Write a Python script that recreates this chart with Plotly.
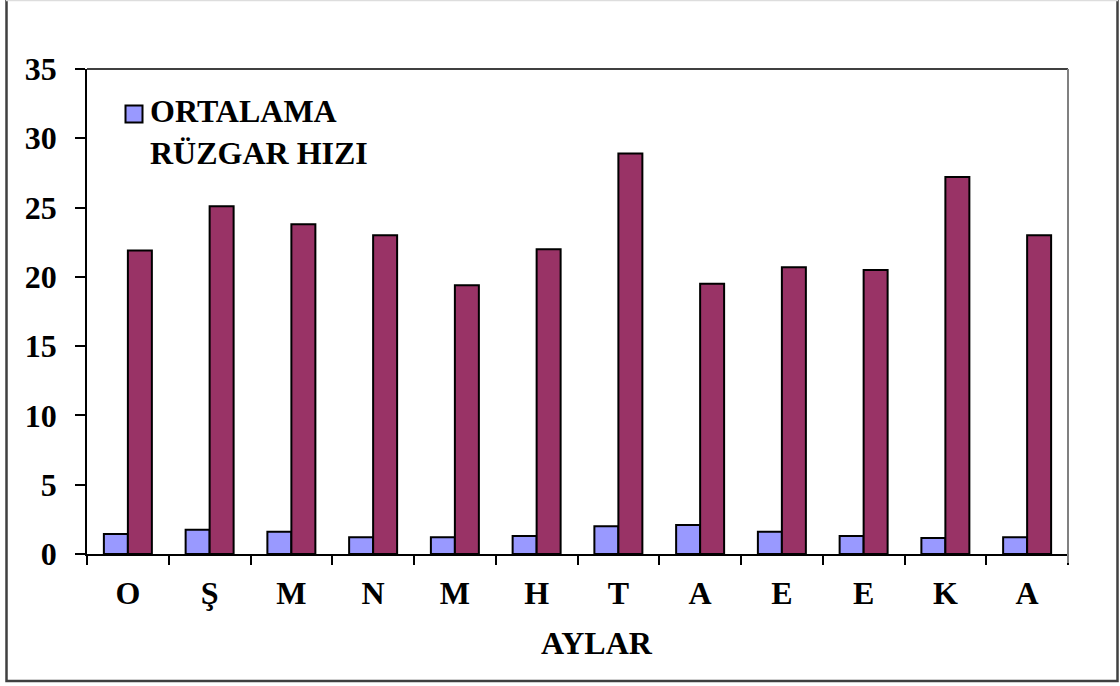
import plotly.graph_objects as go

months = ["O", "Ş", "M", "N", "M", "H", "T", "A", "E", "E", "K", "A"]
avg_wind = [1.45, 1.75, 1.6, 1.2, 1.2, 1.3, 2.0, 2.1, 1.6, 1.3, 1.15, 1.2]
max_wind = [21.9, 25.1, 23.8, 23.0, 19.4, 22.0, 28.9, 19.5, 20.7, 20.5, 27.2, 23.0]
y_ticks = [0, 5, 10, 15, 20, 25, 30, 35]
legend_lines = ["ORTALAMA", "RÜZGAR HIZI"]

x = list(range(len(months)))
FONT = "Liberation Serif, Times New Roman, serif"
FS = 32

fig = go.Figure()
fig.add_trace(go.Bar(
    x=x, y=avg_wind, name=" ".join(legend_lines), showlegend=False,
    marker=dict(color="#9999FF", line=dict(color="black", width=2)),
))
fig.add_trace(go.Bar(
    x=x, y=max_wind, name="MAKSİMUM RÜZGAR HIZI", showlegend=False,
    marker=dict(color="#993366", line=dict(color="black", width=2)),
))

W, H = 1120, 686
L, R, T, B = 87, 1068, 69, 554
pw, ph = R - L, B - T

def px(xp):
    return (xp - L) / pw

def py(yp):
    return (B - yp) / ph

bold = dict(family=FONT, size=FS, color="black", weight="bold")

fig.update_layout(
    width=W, height=H,
    margin=dict(l=L, r=W - R, t=T, b=H - B, pad=0),
    paper_bgcolor="white", plot_bgcolor="white",
    barmode="group", bargap=0.413, bargroupgap=0,
    font=bold,
    showlegend=False,
    xaxis=dict(
        range=[-0.5, len(months) - 0.5],
        tickmode="array", tickvals=x, ticktext=months,
        ticks="", showgrid=False, zeroline=False,
        showline=True, linecolor="black", linewidth=1.5,
        ticklabelstandoff=10,
        tickfont=bold,
        minor=dict(tickmode="linear", tick0=-0.5, dtick=1, ticks="outside",
                   ticklen=9, tickcolor="black", tickwidth=1.5, showgrid=False),
    ),
    yaxis=dict(
        range=[0, 35], tickmode="array", tickvals=y_ticks,
        ticks="outside", ticklen=10, tickcolor="black", tickwidth=1.5,
        showgrid=False, zeroline=False,
        showline=True, linecolor="black", linewidth=1.5,
        ticklabelstandoff=12,
        tickfont=bold,
    ),
    shapes=[
        # plot area top and right edges
        dict(type="line", xref="paper", yref="paper", x0=0, x1=1, y0=1, y1=1,
             line=dict(color="black", width=1.5)),
        dict(type="line", xref="paper", yref="paper", x0=1, x1=1, y0=py(563), y1=1,
             line=dict(color="#808080", width=2)),
        # outer frame
        dict(type="rect", xref="paper", yref="paper",
             x0=px(6.5), x1=px(1117.5), y0=py(681), y1=py(-3),
             line=dict(color="#404040", width=2.5)),
        dict(type="line", xref="paper", yref="paper",
             x0=px(6), x1=px(1118), y0=py(0.5), y1=py(0.5),
             line=dict(color="#DDDDDD", width=1.5)),
        # legend key
        dict(type="rect", xref="paper", yref="paper",
             x0=px(125.5), x1=px(142.5), y0=py(122.5), y1=py(105.5),
             fillcolor="#9999FF", line=dict(color="black", width=2)),
    ],
    annotations=[
        dict(text="<br>".join(legend_lines), xref="paper", yref="paper",
             x=px(148), y=py(132), align="left",
             showarrow=False, xanchor="left", yanchor="middle", font=bold),
        dict(text="AYLAR", xref="paper", yref="paper", x=px(597), y=py(643),
             showarrow=False, xanchor="center", yanchor="middle", font=bold),
    ],
)

fig.write_html("out.html", config={"displayModeBar": False},
               post_script="document.body.style.margin='0px';")
